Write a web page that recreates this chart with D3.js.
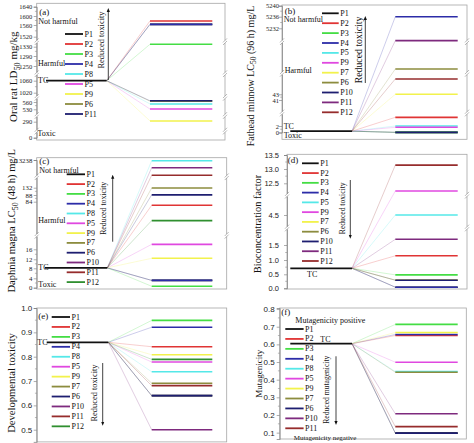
<!DOCTYPE html>
<html><head><meta charset="utf-8">
<script src="https://cdn.jsdelivr.net/npm/d3@7"></script>
<style>body{margin:0;background:#fff}svg{display:block}</style>
</head><body><svg id="c" width="474" height="443"></svg>
<script>
// ================= DATA =================
const aNames = ["P1","P2","P3","P4","P8","P5","P9","P6","P11"];
const aValues = [1563,1578,1376,1563,552,531,304,600,620];
const aTC = 1060;
const aTicks = [0,290,530,560,1020,1060,1250,1290,1330,1520,1560,1600,1640];
const aBreaks = [1425,1150,790,410,120];

const bNames = ["P1","P2","P3","P4","P5","P9","P7","P6","P10","P11","P12"];
const bValues = [0.05,15,0.05,5236,2.0,1.6,43.5,2030,0.05,4260,1250];
const bTC = 0.4;
const bTicks = [0,2,41,43,5232,5236,5240];
const bBreaks = [4180,1690,21.5];

const cNames = ["P1","P2","P3","P4","P8","P5","P9","P7","P6","P10","P11","P12"];
const cValues = [3.1,78.9,0.6,3.1,12900,23.1,12.4,130,89,9600,6000,57];
const cTC = 8.2;
const cTicks = [0,4,8,12,16,84,88,132,13238];
const cBreaks = [5300,36];

const dNames = ["P1","P2","P3","P4","P5","P9","P7","P6","P10","P11","P12"];
const dValues = [0.04,1.14,0.48,0.04,4.5,10.56,0.29,0.29,0.29,2.07,13.14];
const dTC = 0.71;
const dTicks = [0,0.5,1.0,1.5,4.5,12.5,13.0,13.5];
const dBreaks = [9.5,3.2];

const eNames = ["P1","P2","P3","P4","P8","P5","P9","P7","P6","P10","P11","P12"];
const eValues = [0.64,0.841,0.949,0.921,0.738,0.778,0.808,0.691,0.640,0.50,0.681,0.789];
const eTC = 0.859;
const eTicks = [0.5,0.6,0.7,0.8,0.9,1.0];

const fNames = ["P1","P2","P3","P4","P8","P5","P9","P7","P6","P10","P11"];
const fValues = [0.097,0.650,0.713,0.656,0.446,0.499,0.667,0.442,0.097,0.207,0.134];
const fTC = 0.604;
const fTicks = [0.1,0.2,0.3,0.4,0.5,0.6,0.7,0.8];

// ================= STYLE / LAYOUT =================
const palette = ["#111111","#e03434","#44dd44","#2c2ca8","#55e8e8","#e048e0","#f2f24c",
                 "#8c8c3e","#1e1e70","#7e2a7e","#962c2c","#2f8f2f"];
const SERIF = "'Liberation Serif','Times New Roman',serif";
const SANS = "'Liberation Sans',Arial,sans-serif";

const panels = [
 {names:aNames, values:aValues, tc:aTC, ticks:aTicks, breaks:aBreaks,
  frame:[36.7,3.3,225,140], tickY:[137.7,121.7,109.3,102,92.7,80.7,66,56,46.7,36.7,25,16,6.7],
  gap:4.4, tFont:SERIF, tSize:6.5, fmt:"d",
  tcX:[46,106.7], pX:[150,212.3], leg:{x:65,len:18,y0:34,dy:10},
  arrow:{x:108.3,y1:80,y2:10}, aText:{x:101.7,y:40,s:8.4,t:"Reduced toxicity"},
  title:{x:13,y:76.7,s:11,parts:["Oral rat LD","50"," mg/kg"]},
  labels:[["(a)",39.3,11.5,9],["Not harmful",38.3,21.7,8],["Harmful",38,63,8],["TC",38,80.5,8],["Toxic",37.5,133,8]]},
 {names:bNames, values:bValues, tc:bTC, ticks:bTicks, breaks:bBreaks,
  frame:[282,5,467,139.3], tickY:[132.5,126,100,94.3,28.3,16.7,5.7],
  gap:2.5, tFont:SERIF, tSize:6.5, fmt:"d",
  tcX:[290.3,352], pX:[395.3,457.7], leg:{x:322,len:16.7,y0:13.3,dy:9.9},
  arrow:{x:365.3,y1:83,y2:18}, aText:{x:358.7,y:50,s:9.8,t:"Reduced toxicity"},
  title:{x:250.3,y:76,s:10,parts:["Fathead minnow LC","50"," (96 h) mg/L"]},
  labels:[["(b)",284.7,10.8,9],["Not harmful",283.7,19.8,8],["Harmful",284.7,70,8],["TC",283.7,126.7,8],["Toxic",283.7,135,8]]},
 {names:cNames, values:cValues, tc:cTC, ticks:cTicks, breaks:cBreaks,
  frame:[36.7,157.7,226.7,289], tickY:[287.7,278.3,268.3,259.3,249.3,201.7,195,187.7,160],
  gap:4.4, tFont:SERIF, tSize:6.8, fmt:"d",
  tcX:[45,107.3], pX:[151.7,212.3], leg:{x:66.7,len:18.3,y0:174.3,dy:9.8},
  arrow:{x:112.7,y1:241.7,y2:176.7}, aText:{x:103.3,y:208.3,s:7.8,t:"Reduced toxicity"},
  title:{x:11.7,y:220.8,s:10.5,parts:["Daphnia magna LC","50"," (48 h) mg/L"]},
  labels:[["(c)",39.3,160.5,9],["Not harmful",39.3,170,8],["Harmful",38.3,220,8],["TC",38.3,267.7,8],["Toxic",38.3,284.3,8]]},
 {names:dNames, values:dValues, tc:dTC, ticks:dTicks, breaks:dBreaks,
  frame:[287,154.3,467,289], tickY:[288.3,274.3,260,245,215,183.3,169,155],
  gap:8, tFont:SANS, tSize:7.5, fmt:".1f",
  tcX:[290.3,352], pX:[395.3,457.7], leg:{x:302,len:16.7,y0:163.3,dy:9.77},
  arrow:{x:350.3,y1:180,y2:236.7}, aText:{x:342,y:208.3,s:7.6,t:"Reduced toxicity"},
  title:{x:257.7,y:224,s:10.4,parts:["Bioconcentration factor"]},
  labels:[["(d)",287.7,160,9],["TC",307,274.5,8]]},
 {names:eNames, values:eValues, tc:eTC, ticks:eTicks, breaks:[],
  frame:[36.7,308,226.7,441.9], domain:[0.45,1.0],
  gap:4.4, tFont:SANS, tSize:8, fmt:".1f",
  tcX:[46.7,108.3], pX:[151.7,212.3], leg:{x:51.7,len:18.3,y0:317,dy:9.94},
  arrow:{x:102.7,y1:363,y2:423.7}, aText:{x:94.3,y:393,s:8.4,t:"Reduced toxicity"},
  title:{x:11.7,y:383,s:10.6,parts:["Developmental toxicity"]},
  labels:[["(e)",38.3,316.3,9],["TC",37.3,342.3,8]]},
 {names:fNames, values:fValues, tc:fTC, ticks:fTicks, breaks:[],
  frame:[279.7,308,466.3,439], domain:[0.064,0.806],
  gap:5, tFont:SANS, tSize:8, fmt:".1f",
  tcX:[290.3,352], pX:[395.3,457.7], leg:{x:285.3,len:18.3,y0:329,dy:9.93},
  arrow:{x:336,y1:356.3,y2:423}, aText:{x:326.3,y:389.7,s:7.6,t:"Reduced mutagenicity"},
  title:{x:258.7,y:373.8,s:9,parts:["Mutagenicity"]},
  labels:[["(f)",281.3,312,9],["Mutagenicity positive",295.3,320.7,8],["TC",320.3,339.7,8],["Mutagenicity negative",293.7,437.6,7]]}
];

// ================= DRAW =================
const svg = d3.select("#c");
svg.append("rect").attr("width",474).attr("height",443).attr("fill","#fff");
const defs = svg.append("defs");
defs.append("marker").attr("id","ah").attr("viewBox","0 0 10 10").attr("refX",5).attr("refY",5)
  .attr("markerWidth",5).attr("markerHeight",6).attr("orient","auto-start-reverse")
  .append("path").attr("d","M0,1 L10,5 L0,9 z").attr("fill","#111");

function drawBreak(g, x, yy){
  g.append("rect").attr("x",x-1.5).attr("y",yy-1.3).attr("width",3).attr("height",2.6).attr("fill","#fff");
  [-1.3,1.3].forEach(o=>{
    g.append("line").attr("x1",x-2).attr("y1",yy+o+2).attr("x2",x+2).attr("y2",yy+o-2)
      .attr("stroke","#888").attr("stroke-width",0.6);
  });
}

panels.forEach(p=>{
  const g = svg.append("g");
  const [fx0,fy0,fx1,fy1] = p.frame;
  const y = p.tickY ? d3.scaleLinear().domain(p.ticks).range(p.tickY)
                    : d3.scaleLinear().domain(p.domain).range([fy1,fy0]);
  // frame
  g.append("rect").attr("x",fx0).attr("y",fy0).attr("width",fx1-fx0).attr("height",fy1-fy0)
    .attr("fill","none").attr("stroke","#a6a6a6").attr("stroke-width",0.8);
  // axis
  const ax = d3.axisLeft(y).tickValues(p.ticks).tickSize(3).tickPadding(Math.max(0,p.gap-3))
    .tickFormat(d3.format(p.fmt));
  const axg = g.append("g").attr("transform",`translate(${fx0},0)`).call(ax);
  axg.select(".domain").attr("stroke","#888").attr("stroke-width",0.8);
  axg.selectAll(".tick line").attr("stroke","#777").attr("stroke-width",0.6);
  axg.selectAll(".tick text").attr("font-family",p.tFont).attr("font-size",p.tSize).attr("fill","#222");
  // minor ticks
  const minors = [];
  for(let i=0;i<p.ticks.length-1;i++){
    const t0=p.ticks[i], t1=p.ticks[i+1];
    if(!p.breaks.some(b=>b>t0&&b<t1)) minors.push((t0+t1)/2);
  }
  g.selectAll(null).data(minors).enter().append("line")
    .attr("x1",fx0).attr("x2",fx0-1.8).attr("y1",d=>y(d)).attr("y2",d=>y(d))
    .attr("stroke","#777").attr("stroke-width",0.5);
  // breaks
  p.breaks.forEach(b=>{ drawBreak(g,fx0,y(b)); drawBreak(g,fx1,y(b)); });

  const tcY = y(p.tc);
  // connectors
  g.selectAll(null).data(p.values).enter().append("line")
    .attr("x1",p.tcX[1]).attr("y1",tcY).attr("x2",p.pX[0]).attr("y2",d=>y(d))
    .attr("stroke",(d,i)=>palette[i]).attr("stroke-opacity",0.4).attr("stroke-width",0.6);
  // product lines
  g.selectAll(null).data(p.values).enter().append("line")
    .attr("x1",p.pX[0]).attr("x2",p.pX[1]).attr("y1",d=>y(d)).attr("y2",d=>y(d))
    .attr("stroke",(d,i)=>palette[i]).attr("stroke-width",1.6);
  // TC line
  g.append("line").attr("x1",p.tcX[0]).attr("x2",p.tcX[1]).attr("y1",tcY).attr("y2",tcY)
    .attr("stroke","#111").attr("stroke-width",1.8);
  // legend
  const L = p.leg;
  p.names.forEach((n,i)=>{
    const ly = L.y0 + i*L.dy;
    g.append("line").attr("x1",L.x).attr("x2",L.x+L.len).attr("y1",ly).attr("y2",ly)
      .attr("stroke",palette[i]).attr("stroke-width",1.8);
    g.append("text").attr("x",L.x+L.len+1.5).attr("y",ly).attr("dominant-baseline","central")
      .attr("font-family",SERIF).attr("font-size",8).attr("fill","#111").text(n);
  });
  // arrow
  g.append("line").attr("x1",p.arrow.x).attr("x2",p.arrow.x).attr("y1",p.arrow.y1).attr("y2",p.arrow.y2)
    .attr("stroke","#111").attr("stroke-width",0.8).attr("marker-end","url(#ah)");
  g.append("text").attr("transform",`translate(${p.aText.x},${p.aText.y}) rotate(-90)`)
    .attr("text-anchor","middle").attr("dominant-baseline","central")
    .attr("font-family",SERIF).attr("font-size",p.aText.s).attr("fill","#111").text(p.aText.t);
  // labels
  p.labels.forEach(([t,x,yy,s])=>{
    g.append("text").attr("x",x).attr("y",yy).attr("dominant-baseline","central")
      .attr("font-family",SERIF).attr("font-size",s).attr("fill","#111").text(t);
  });
  // title
  const tt = g.append("text").attr("transform",`translate(${p.title.x+p.title.s*0.35},${p.title.y}) rotate(-90)`)
    .attr("text-anchor","middle").attr("font-family",SERIF).attr("font-size",p.title.s).attr("fill","#111");
  p.title.parts.forEach((s,i)=>{
    const ts = tt.append("tspan").text(s);
    if(i===1) ts.attr("font-size",p.title.s*0.75).attr("dy",p.title.s*0.25);
    if(i===2) ts.attr("dy",-p.title.s*0.25);
  });
});
</script></body></html>
